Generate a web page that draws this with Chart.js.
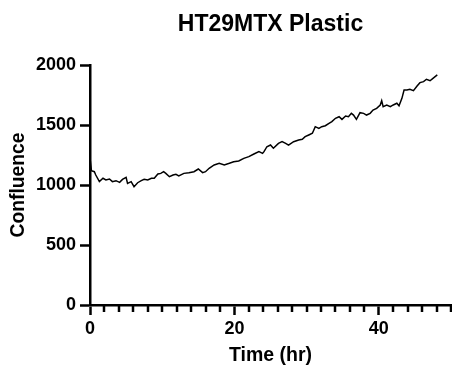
<!DOCTYPE html>
<html>
<head>
<meta charset="utf-8">
<script src="https://cdn.jsdelivr.net/npm/chart.js@4"></script>
<style>
  html, body { margin: 0; padding: 0; background: #fff; }
  #wrap { width: 452px; height: 370px; position: relative; }
</style>
</head>
<body>
<div id="wrap"><canvas id="chartConfluence"></canvas></div>
<script>
// ── HT29MTX on plastic: confluence over time ──
const hours = [
  0, 0.2, 0.6, 0.8, 1.3, 1.8, 2.2, 2.7, 3.1, 3.6,
  4.1, 4.5, 5.0, 5.2, 5.7, 6.1, 6.6, 7.1, 7.5, 8.0,
  8.5, 8.9, 9.4, 9.8, 10.2, 10.5, 11.0, 11.5, 11.9, 12.3,
  13.0, 13.7, 14.4, 15.0, 15.6, 16.0, 16.5, 17.2, 17.9, 18.6,
  19.3, 19.9, 20.6, 21.3, 22.0, 22.7, 23.4, 23.9, 24.1, 24.5,
  25.0, 25.4, 26.1, 26.6, 27.1, 27.5, 28.2, 28.9, 29.4, 29.8,
  30.3, 30.8, 31.2, 31.7, 32.1, 32.6, 33.1, 33.5, 34.0, 34.5,
  34.9, 35.4, 35.8, 36.2, 36.5, 36.9, 37.4, 37.9, 38.3, 38.8,
  39.2, 39.7, 40.2, 40.4, 40.6, 41.1, 41.6, 42.0, 42.5, 42.8,
  43.2, 43.5, 43.9, 44.3, 44.8, 45.3, 45.7, 46.2, 46.6, 47.1,
  47.5, 48.1
];
const confluence = [
  1225, 1120, 1111, 1083, 1028, 1056, 1042, 1050, 1028, 1036,
  1022, 1047, 1064, 1014, 1028, 986, 1019, 1036, 1047, 1042,
  1056, 1056, 1092, 1097, 1111, 1097, 1069, 1083, 1089, 1075,
  1097, 1103, 1111, 1133, 1103, 1111, 1139, 1167, 1181, 1167,
  1181, 1194, 1200, 1222, 1236, 1258, 1278, 1264, 1278, 1319,
  1333, 1306, 1347, 1361, 1347, 1333, 1361, 1375, 1381, 1403,
  1417, 1431, 1486, 1472, 1486, 1494, 1514, 1528, 1556, 1569,
  1547, 1575, 1569, 1597, 1583, 1547, 1603, 1597, 1583, 1597,
  1625, 1639, 1667, 1703, 1653, 1667, 1653, 1667, 1681, 1660,
  1722, 1792, 1792, 1797, 1786, 1825, 1853, 1861, 1881, 1869,
  1889, 1917
];
const xMax = 50, xMajor = 20, xMinor = 2;
const yMax = 2000, yStep = 500;

const FONT = 'Arial, "Liberation Sans", sans-serif';
const AXIS_W = 2.5;

// minor ticks on the time axis (shorter than the labelled ones)
const minorTicks = {
  id: 'minorTicks',
  afterDraw(chart) {
    const sx = chart.scales.x, ctx = chart.ctx;
    const y0 = chart.chartArea.bottom;
    ctx.save();
    ctx.strokeStyle = '#000';
    ctx.lineWidth = AXIS_W;
    for (let v = 0; v <= xMax; v += xMinor) {
      if (v % xMajor === 0) continue;
      const px = Math.round(sx.getPixelForValue(v));
      ctx.beginPath();
      ctx.moveTo(px, y0);
      ctx.lineTo(px, y0 + 7);
      ctx.stroke();
    }
    ctx.restore();
  }
};

new Chart(document.getElementById('chartConfluence'), {
  type: 'scatter',
  data: {
    datasets: [{
      data: hours.map((h, i) => ({ x: h, y: confluence[i] })),
      showLine: true,
      borderColor: '#000',
      borderWidth: 1.5,
      pointRadius: 0,
      tension: 0
    }]
  },
  options: {
    responsive: true, maintainAspectRatio: false, animation: false,
    layout: { padding: { left: 0, right: 1, top: 0, bottom: 0 } },
    plugins: {
      legend: { display: false },
      tooltip: { enabled: false },
      title: {
        display: true, fullSize: false,
        text: 'HT29MTX Plastic',
        color: '#000',
        font: { family: FONT, size: 23, weight: 'bold', lineHeight: 1.2 },
        padding: { top: 11, bottom: 26.4 }
      }
    },
    scales: {
      x: {
        type: 'linear', min: 0, max: xMax,
        afterFit: s => { s.height = 65; },
        border: { display: true, color: '#000', width: AXIS_W },
        grid: {
          drawOnChartArea: false, drawTicks: true, tickLength: 10,
          tickWidth: AXIS_W, tickColor: '#000'
        },
        ticks: {
          stepSize: xMajor, includeBounds: false, padding: 3,
          callback: v => String(v),
          color: '#000', font: { family: FONT, size: 18, weight: 'bold' }
        },
        title: {
          display: true, text: 'Time (hr)', color: '#000',
          font: { family: FONT, size: 19.5, weight: 'bold', lineHeight: 1.2 },
          padding: { top: 0, bottom: 3 }
        }
      },
      y: {
        min: 0, max: yMax,
        afterFit: s => { s.width = 90; },
        border: { display: true, color: '#000', width: AXIS_W },
        grid: {
          drawOnChartArea: false, drawTicks: true, tickLength: 10,
          tickWidth: AXIS_W, tickColor: '#000'
        },
        ticks: {
          stepSize: yStep, padding: 4,
          callback: v => String(v),
          color: '#000', font: { family: FONT, size: 18, weight: 'bold' }
        },
        title: {
          display: true, text: 'Confluence', color: '#000',
          font: { family: FONT, size: 19.3, weight: 'bold', lineHeight: 1.2 },
          padding: { top: 7, bottom: 0 }
        }
      }
    }
  },
  plugins: [minorTicks]
});
</script>
</body>
</html>
